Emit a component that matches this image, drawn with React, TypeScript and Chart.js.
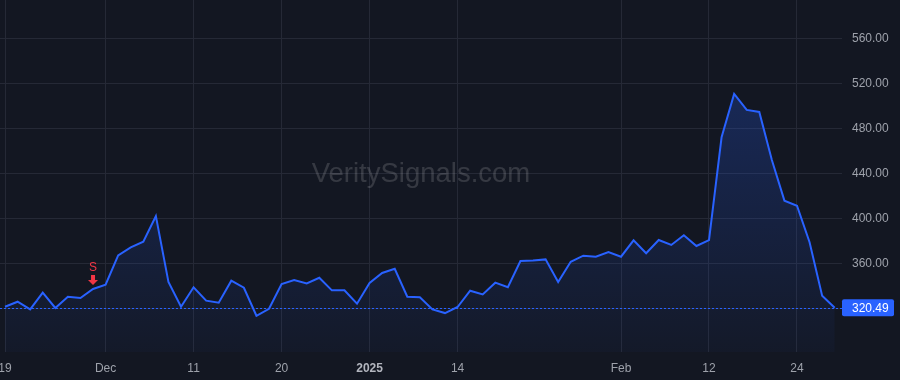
import React, { useEffect, useRef } from "react";
import { Chart, registerables } from "chart.js";

Chart.register(...registerables);

const dates = [
  "2024-11-19", "2024-11-20", "2024-11-21", "2024-11-22", "2024-11-25", "2024-11-26", "2024-11-27", "2024-11-29",
  "2024-12-02", "2024-12-03", "2024-12-04", "2024-12-05", "2024-12-06", "2024-12-09", "2024-12-10", "2024-12-11",
  "2024-12-12", "2024-12-13", "2024-12-16", "2024-12-17", "2024-12-18", "2024-12-19", "2024-12-20", "2024-12-23",
  "2024-12-24", "2024-12-26", "2024-12-27", "2024-12-30", "2024-12-31",
  "2025-01-02", "2025-01-03", "2025-01-06", "2025-01-07", "2025-01-08", "2025-01-10", "2025-01-13", "2025-01-14",
  "2025-01-15", "2025-01-16", "2025-01-17", "2025-01-21", "2025-01-22", "2025-01-23", "2025-01-24", "2025-01-27",
  "2025-01-28", "2025-01-29", "2025-01-30", "2025-01-31",
  "2025-02-03", "2025-02-04", "2025-02-05", "2025-02-06", "2025-02-07", "2025-02-10", "2025-02-11", "2025-02-12",
  "2025-02-13", "2025-02-14", "2025-02-18", "2025-02-19", "2025-02-20", "2025-02-21", "2025-02-24", "2025-02-25",
  "2025-02-26", "2025-02-27",
];

const prices = [
  321.4, 325.9, 319.1, 333.9, 320.3, 330.3, 329.2, 337.2,
  341.0, 367.1, 374.2, 379.2, 402.0, 343.4, 321.4, 338.7,
  326.8, 325.0, 344.6, 338.3, 313.4, 319.6, 341.6, 345.2,
  342.2, 347.2, 336.0, 336.0, 324.1,
  342.5, 351.4, 355.2, 330.3, 329.8, 319.1, 315.8, 321.2,
  335.7, 332.4, 342.8, 338.7, 362.0, 362.6, 363.5, 343.4,
  361.4, 366.8, 365.9, 370.0,
  365.9, 380.4, 368.9, 380.7, 376.3, 384.9, 375.4, 380.6,
  472.0, 510.5, 496.3, 494.5, 451.8, 415.7, 411.2, 378.7,
  331.2, 320.49,
];

const xTickDates = ["2024-11-19", "2024-12-02", "2024-12-11", "2024-12-20", "2025-01-02", "2025-01-14", "2025-02-03", "2025-02-12", "2025-02-24"];
const xTickLabels = ["19", "Dec", "11", "20", "2025", "14", "Feb", "12", "24"];
const yTicks = [320, 360, 400, 440, 480, 520, 560];
const signalDates = ["2024-11-29"];
const signalLabels = ["S"];
const lastPrice = 320.49;
const watermark = "VeritySignals.com";

const BG = "#131722";
const BLUE = "#2962ff";
const GRID = "#252936";
const TEXT = "#9ea2ab";
const RED = "#f23645";
const FONT = "'Liberation Sans', Arial, sans-serif";

export default function App() {
  const ref = useRef<HTMLCanvasElement | null>(null);

  useEffect(() => {
    document.body.style.margin = "0";
    const canvas = ref.current;
    if (!canvas) return;
    const tickIdx = xTickDates.map((d) => dates.indexOf(d));
    const points = prices.map((p, i) => ({ x: i, y: p }));

    const bgPlugin = {
      id: "bg",
      beforeDraw(chart: any) {
        const { ctx, width, height } = chart;
        ctx.save();
        ctx.fillStyle = BG;
        ctx.fillRect(0, 0, width, height);
        ctx.restore();
      },
    };

    const overlayPlugin = {
      id: "overlay",
      beforeDatasetsDraw(chart: any) {
        const { ctx, chartArea, scales } = chart;
        ctx.save();
        ctx.font = `27.5px ${FONT}`;
        ctx.fillStyle = "rgba(255,255,255,0.15)";
        ctx.textAlign = "center";
        ctx.textBaseline = "alphabetic";
        ctx.fillText(watermark, (chartArea.left + chartArea.right) / 2, 182);
        const y = Math.round(scales.y.getPixelForValue(lastPrice)) + 0.5;
        ctx.strokeStyle = BLUE;
        ctx.lineWidth = 1;
        ctx.setLineDash([2, 2]);
        ctx.beginPath();
        ctx.moveTo(chartArea.left, y);
        ctx.lineTo(chartArea.right, y);
        ctx.stroke();
        ctx.restore();
      },
      afterDatasetsDraw(chart: any) {
        const { ctx, chartArea, scales } = chart;
        ctx.save();
        const y = scales.y.getPixelForValue(lastPrice);
        const x0 = chartArea.right;
        ctx.fillStyle = BLUE;
        ctx.beginPath();
        (ctx as any).roundRect(x0, y - 8.5, 52, 17, 2);
        ctx.fill();
        ctx.fillStyle = "#ffffff";
        ctx.font = `12px ${FONT}`;
        ctx.textAlign = "left";
        ctx.textBaseline = "middle";
        ctx.fillText(lastPrice.toFixed(2), x0 + 10, y + 0.5);
        signalDates.forEach((d, k) => {
          const i = dates.indexOf(d);
          const px = scales.x.getPixelForValue(i);
          const py = scales.y.getPixelForValue(prices[i]);
          const bottom = py - 4;
          ctx.fillStyle = RED;
          ctx.beginPath();
          ctx.moveTo(px - 5, bottom - 5);
          ctx.lineTo(px + 5, bottom - 5);
          ctx.lineTo(px, bottom);
          ctx.closePath();
          ctx.fill();
          ctx.fillRect(px - 2, bottom - 10, 4, 6);
          ctx.font = `12px ${FONT}`;
          ctx.textAlign = "center";
          ctx.textBaseline = "middle";
          ctx.fillText(signalLabels[k], px, bottom - 17);
        });
        ctx.restore();
      },
    };

    const chart = new Chart(canvas, {
      type: "line",
      data: {
        datasets: [
          {
            data: points,
            borderColor: BLUE,
            borderWidth: 2,
            pointRadius: 0,
            tension: 0,
            fill: "start",
            backgroundColor: (c: any) => {
              const area = c.chart.chartArea;
              if (!area) return "rgba(41,98,255,0.15)";
              const g = c.chart.ctx.createLinearGradient(0, area.top + 90, 0, area.bottom);
              g.addColorStop(0, "rgba(41,98,255,0.24)");
              g.addColorStop(1, "rgba(41,98,255,0.03)");
              return g;
            },
          },
        ],
      },
      options: {
        responsive: false,
        animation: false,
        layout: { padding: 0 },
        plugins: { legend: { display: false }, tooltip: { enabled: false } },
        scales: {
          x: {
            type: "linear",
            min: -0.4,
            max: 66.58,
            border: { display: false },
            grid: { color: GRID, drawTicks: false },
            afterBuildTicks: (s: any) => {
              s.ticks = tickIdx.map((v) => ({ value: v }));
            },
            afterFit: (s: any) => {
              s.height = 28;
              s.paddingLeft = 0;
              s.paddingRight = 0;
            },
            ticks: {
              autoSkip: false,
              maxRotation: 0,
              padding: 9,
              color: (c: any) => (c.tick && xTickLabels[tickIdx.indexOf(c.tick.value)] === "2025" ? "#b2b5be" : TEXT),
              font: (c: any) =>
                c.tick && xTickLabels[tickIdx.indexOf(c.tick.value)] === "2025"
                  ? { family: FONT, size: 12, weight: "bold" }
                  : { family: FONT, size: 12 },
              callback: (v: any) => {
                const k = tickIdx.indexOf(Number(v));
                return k >= 0 ? xTickLabels[k] : "";
              },
            },
          },
          y: {
            position: "right",
            min: 281.2,
            max: 594,
            border: { display: false },
            grid: { color: GRID, drawTicks: false },
            afterBuildTicks: (s: any) => {
              s.ticks = yTicks.map((v) => ({ value: v }));
            },
            afterFit: (s: any) => {
              s.width = 58;
              s.paddingTop = 0;
              s.paddingBottom = 0;
            },
            ticks: {
              padding: 10,
              color: TEXT,
              font: { family: FONT, size: 12 },
              callback: (v: any) => (Number(v) === 320 ? "" : Number(v).toFixed(2)),
            },
          },
        },
      },
      plugins: [bgPlugin, overlayPlugin],
    } as any);

    return () => chart.destroy();
  }, []);

  return (
    <div style={{ width: 900, height: 380, background: BG }}>
      <canvas ref={ref} width={900} height={380} />
    </div>
  );
}
